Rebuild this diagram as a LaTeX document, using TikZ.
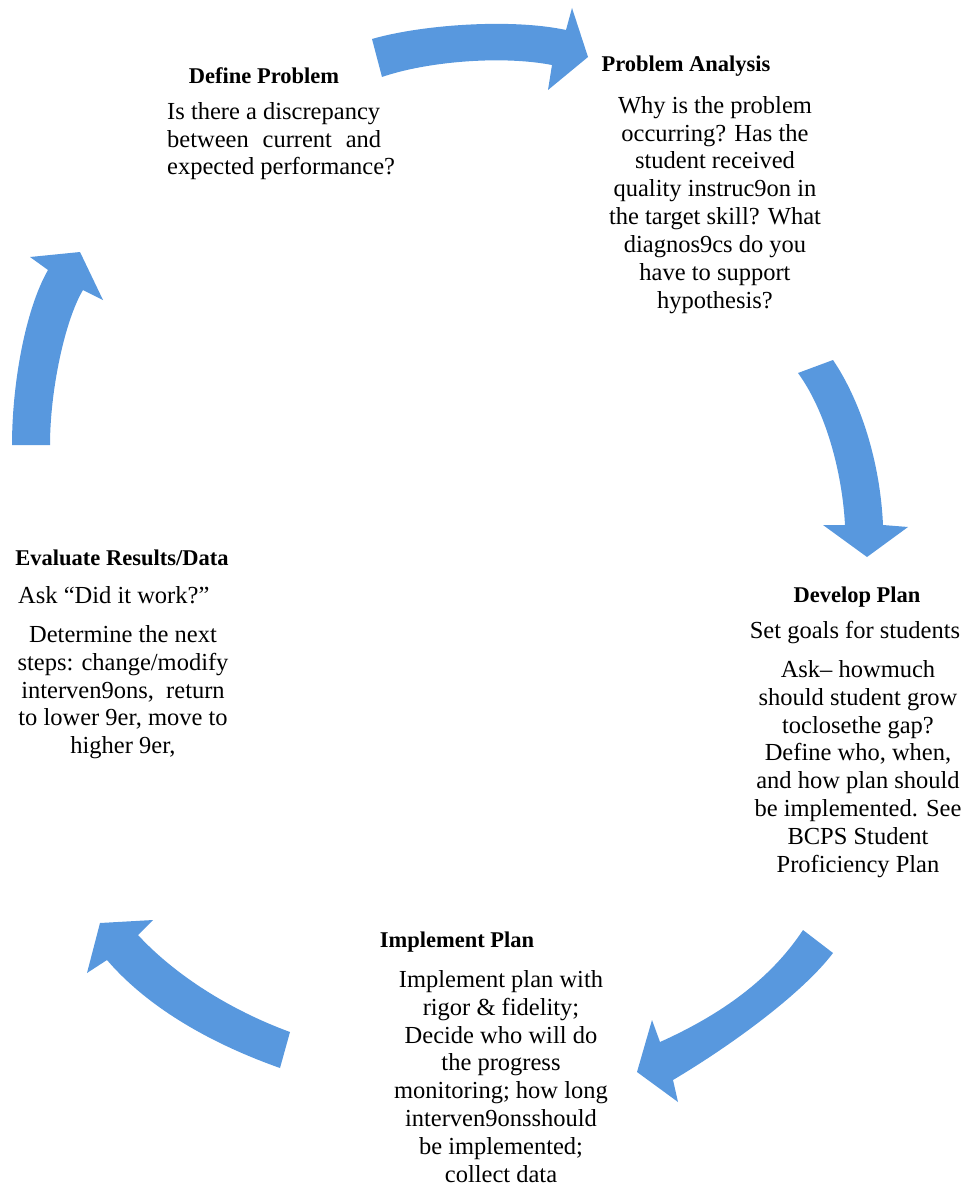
\documentclass[tikz,border=0pt]{standalone}
\usepackage{fontspec}
\setmainfont{Liberation Serif}
\definecolor{arrowblue}{RGB}{88,152,222}
\tikzset{
	headtext/.style={font=\fontsize{22.5}{27}\selectfont\bfseries, inner sep=0pt, anchor=base},
	bodytext/.style={font=\fontsize{24.5}{27.9}\selectfont, inner sep=0pt, align=center, anchor=north},
	linetext/.style={font=\fontsize{24.5}{27.9}\selectfont, inner sep=0pt, anchor=base},
	blockarrow/.style={fill=arrowblue}
}
\begin{document}
\begin{tikzpicture}[x=1pt, y=-1pt]
	\useasboundingbox (0,0) rectangle (967,1190);

	%define problem
	\node (defineTitle) at (264, 84) [headtext]{Define Problem};
	\node (defineText) at (167, 102) [bodytext, anchor=north west, align=left]{Is there a discrepancy\\\makebox[214pt][s]{between current and}\\expected performance?};

	%problem analysis
	\node (analysisTitle) at (686, 72) [headtext]{Problem Analysis};
	\node (analysisText) at (715, 96) [bodytext]{Why is the problem\\occurring? Has the\\student received\\quality instruc9on in\\the target skill? What\\diagnos9cs do you\\have to support\\hypothesis?};

	%develop plan
	\node (planTitle) at (857, 602) [headtext]{Develop Plan};
	\node (planGoals) at (855, 638) [linetext]{Set goals for students};
	\node (planText) at (858, 660) [bodytext]{Ask– howmuch\\should student grow\\toclosethe gap?\\Define who, when,\\and how plan should\\be implemented. See\\BCPS Student\\Proficiency Plan};

	%implement plan
	\node (implTitle) at (457, 947) [headtext]{Implement Plan};
	\node (implText) at (501, 970) [bodytext]{Implement plan with\\rigor \& fidelity;\\Decide who will do\\the progress\\monitoring; how long\\interven9onsshould\\be implemented;\\collect data};

	%evaluate results
	\node (evalTitle) at (122, 565) [headtext]{Evaluate Results/Data};
	\node (evalAsk) at (18, 603) [linetext, anchor=base west]{Ask “Did it work?”};
	\node (evalText) at (123, 625) [bodytext]{Determine the next\\steps: change/modify\\interven9ons,\ \ return\\to lower 9er, move to\\higher 9er,};

	%arrows
	\fill[blockarrow] (372,39) .. controls (420,25) and (510,18) .. (566,30) -- (572,8) -- (588,57) -- (548,90) -- (552,65) .. controls (500,55) and (425,62) .. (382,77) -- cycle;
	\fill[blockarrow] (833,360) .. controls (860,400) and (880,460) .. (883,525) -- (908,527) -- (867,557) -- (823,525) -- (845,525) .. controls (842,470) and (825,410) .. (798,373) -- cycle;
	\fill[blockarrow] (833,953) .. controls (805,990) and (740,1040) .. (673,1080) -- (678,1102) -- (637,1072) -- (652,1020) -- (660,1042) .. controls (720,1015) and (770,980) .. (803,930) -- cycle;
	\fill[blockarrow] (290,1032) .. controls (230,1010) and (175,975) .. (138,935) -- (153,920) -- (100,923) -- (87,973) -- (107,960) .. controls (150,1010) and (215,1045) .. (280,1068) -- cycle;
	\fill[blockarrow] (12,445) .. controls (12,385) and (25,310) .. (48,270) -- (30,257) -- (80,252) -- (103,300) -- (83,290) .. controls (65,320) and (50,390) .. (50,445) -- cycle;
\end{tikzpicture}
\end{document}
